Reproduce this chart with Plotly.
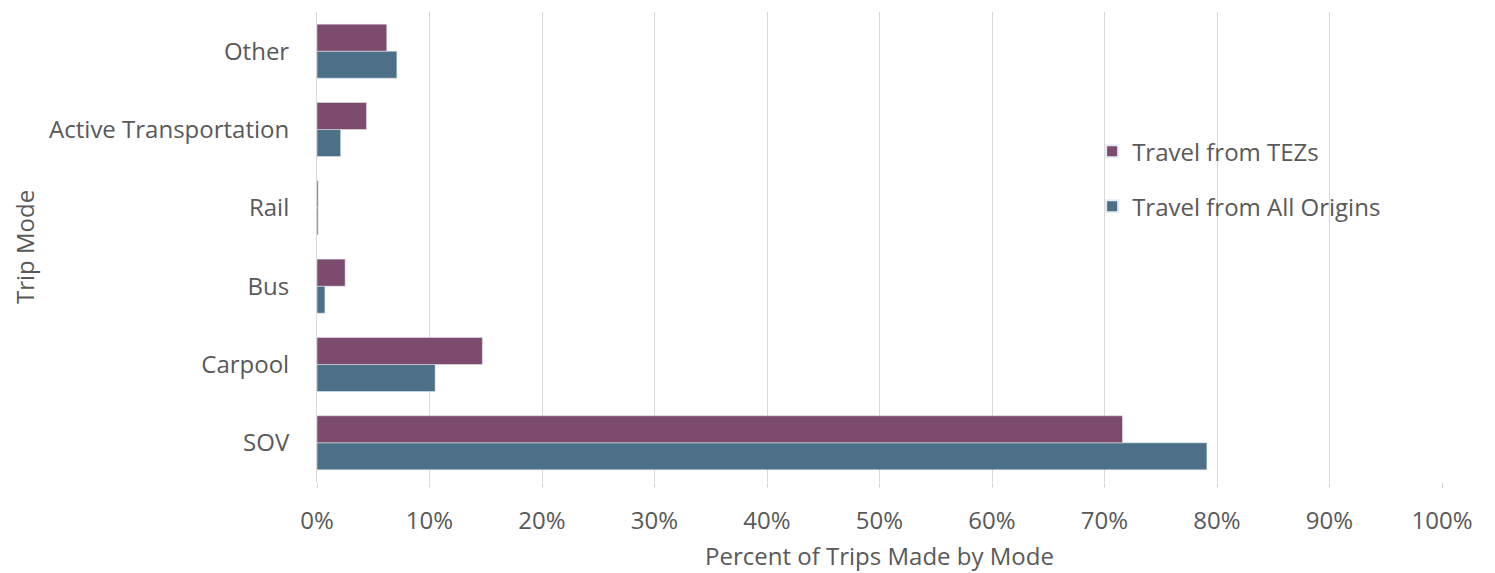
import plotly.graph_objects as go

categories = ["SOV", "Carpool", "Bus", "Rail", "Active Transportation", "Other"]
tez_values = [0.716, 0.147, 0.025, 0.001, 0.044, 0.062]
all_values = [0.791, 0.105, 0.007, 0.001, 0.021, 0.071]
x_ticks = [i / 10 for i in range(11)]
x_tick_labels = [f"{i*10}%" for i in range(11)]

font_family = "Open Sans, Noto Sans, sans-serif"
text_color = "#595959"
fs = 24

fig = go.Figure()
fig.add_trace(go.Bar(
    y=categories, x=all_values, orientation="h",
    name="Travel from All Origins", marker_color="#4B7088",
    legendrank=2, legendgroup="all",
))
fig.add_trace(go.Bar(
    y=categories, x=tez_values, orientation="h",
    name="Travel from TEZs", marker_color="#7D4B6E",
    legendrank=1, legendgroup="tez",
))

fig.update_layout(
    width=1495, height=573,
    margin=dict(l=309, r=61, t=4, b=99),
    barmode="group", bargap=0.31, bargroupgap=0,
    plot_bgcolor="white", paper_bgcolor="white",
    font=dict(family=font_family, size=fs, color=text_color),
    showlegend=True,
    legend=dict(
        x=0.689, y=0.751, xanchor="left", yanchor="top",
        font=dict(size=fs, color=text_color),
        bgcolor="rgba(0,0,0,0)",
        tracegroupgap=21, itemsizing="constant",
    ),
    xaxis=dict(
        range=[0, 1.0], tickvals=x_ticks, ticktext=x_tick_labels,
        showgrid=True, gridcolor="#d9d9d9", gridwidth=1,
        zeroline=False, showline=False,
        ticks="outside", ticklen=5, tickcolor="#d9d9d9",
        ticklabelstandoff=12,
        title=dict(text="Percent of Trips Made by Mode", standoff=13,
                   font=dict(size=fs, color=text_color)),
        tickfont=dict(size=fs, color=text_color),
    ),
    yaxis=dict(
        categoryorder="array", categoryarray=categories,
        range=[-0.5, 5.5],
        showgrid=False, zeroline=False,
        showline=True, linecolor="#d9d9d9", linewidth=1,
        ticks="", ticklabelstandoff=22,
        title=dict(text="Trip Mode", standoff=8,
                   font=dict(size=fs, color=text_color)),
        tickfont=dict(size=fs, color=text_color),
    ),
)

fig.write_html("out.html")
